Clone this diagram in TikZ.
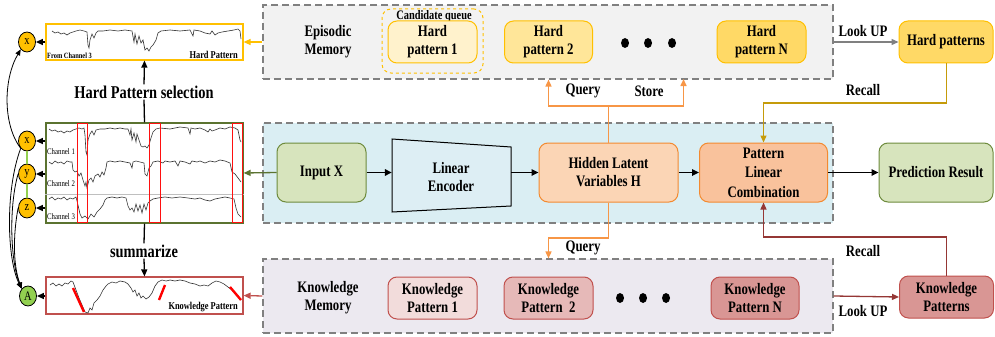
\documentclass[tikz,border=0pt]{standalone}
\usepackage{fontspec}
\setmainfont[FakeStretch=0.8]{Liberation Serif}
\usetikzlibrary{arrows.meta,shapes.geometric}
\definecolor{goldY}{HTML}{FFC000}
\definecolor{memgray}{HTML}{808080}
\definecolor{epifill}{HTML}{F2F2F2}
\definecolor{midfill}{HTML}{DAEEF3}
\definecolor{kfill}{HTML}{ECE9F0}
\definecolor{hpOnef}{HTML}{FFF2CC}
\definecolor{hpTwof}{HTML}{FFE699}
\definecolor{hpNf}{HTML}{FFD966}
\definecolor{greenf}{HTML}{D7E4BD}
\definecolor{greend}{HTML}{6E8B3D}
\definecolor{hidf}{HTML}{FBD5B5}
\definecolor{plcf}{HTML}{F9C29C}
\definecolor{orangeD}{HTML}{F38A30}
\definecolor{kpOnef}{HTML}{F2DCDB}
\definecolor{kpTwof}{HTML}{E6B9B8}
\definecolor{kpNf}{HTML}{D99694}
\definecolor{redD}{HTML}{C0504D}
\definecolor{brownD}{HTML}{953735}
\definecolor{recallG}{HTML}{C59B0A}
\definecolor{qline}{HTML}{F79646}
\definecolor{oliveD}{HTML}{5B7330}
\definecolor{Agreen}{HTML}{92D050}
\definecolor{encf}{HTML}{DDEEF4}
\definecolor{brightred}{HTML}{FF1010}
\newcommand\tsz[2]{\fontsize{#1}{#2}\selectfont}
\tikzset{
 memory/.style={draw=memgray, dash pattern=on 7pt off 4pt, line width=1.1pt, minimum width=570pt, inner sep=0},
 rbox/.style={rounded corners=9pt, line width=1pt, align=center, inner sep=1pt, font=\bfseries\tsz{16}{18}},
 lbl/.style={font=\bfseries\tsz{16}{18}, inner sep=1pt, align=center},
 biglbl/.style={font=\bfseries\tsz{18}{20}, inner sep=1pt},
 circ/.style={ellipse, draw=black, line width=0.8pt, minimum width=17pt, minimum height=20pt, inner sep=0, font=\tsz{13}{14}},
 blackdot/.style={ellipse, fill=black, minimum width=8pt, minimum height=10pt, inner sep=0},
 ts/.style={line width=0.6pt, black!80},
 strip/.style={draw, fill=white, line width=1.2pt, inner sep=0, minimum width=197pt},
 arr/.style={-{Triangle[length=7pt,width=6.5pt]}, line width=1.6pt},
 conn/.style={-{Triangle[length=7pt,width=6pt]}, line width=1.3pt},
 qconn/.style={-{Triangle[length=7pt,width=6pt]}, line width=1.5pt, draw=qline},
 qlinestyle/.style={line width=1.5pt, draw=qline},
 curv/.style={-{Triangle[length=6pt,width=5pt]}, line width=0.8pt},
 small/.style={font=\tsz{8.5}{9}, inner sep=0},
 smallb/.style={font=\bfseries\tsz{10.5}{11}, inner sep=0},
 redbox/.style={draw=brightred, line width=1.4pt},
}
\begin{document}
\begin{tikzpicture}[x=1pt,y=-1pt]
\useasboundingbox (0,0) rectangle (995,337);
% memory / model containers
\node[memory, fill=epifill, minimum height=74pt] (epi) at (548,42) {};
\node[memory, fill=midfill, minimum height=100pt] (mid) at (548,173) {};
\node[memory, fill=kfill, minimum height=74pt] (kmem) at (548,296) {};

% episodic memory
\node[lbl] (epit) at (328,42) {Episodic\\Memory};
\node[draw=goldY, dashed, rounded corners=9pt, line width=1pt, minimum width=101pt, minimum height=64pt] (cq) at (432.5,41) {};
\node[font=\bfseries\tsz{13}{13}, inner sep=0] (cqt) at (434,16) {Candidate queue};
\node[rbox, draw=goldY, fill=hpOnef, minimum width=89pt, minimum height=42pt] (hp1) at (432.5,42) {Hard\\pattern 1};
\node[rbox, draw=goldY, fill=hpTwof, minimum width=88pt, minimum height=42pt] (hp2) at (548.5,42) {Hard\\pattern 2};
\node[blackdot] (d1) at (625,43) {};
\node[blackdot] (d2) at (648,43) {};
\node[blackdot] (d3) at (672,43) {};
\node[rbox, draw=goldY, fill=hpNf, minimum width=89pt, minimum height=42pt] (hpn) at (761.5,42) {Hard\\pattern N};
\node[rbox, draw=goldY, fill=hpNf, minimum width=94pt, minimum height=42pt] (hps) at (946,42) {Hard patterns};

% model
\node[rbox, draw=greend, fill=greenf, minimum width=89pt, minimum height=59pt] (inp) at (321.5,172.5) {Input X};
\node[minimum width=119pt, minimum height=73pt, inner sep=0] (enc) at (451.5,175.5) {};
\draw[line width=1pt, fill=encf] (392,139) -- (511,147) -- (511,206) -- (392,212) -- cycle;
\node[lbl] (enct) at (451,177) {Linear\\Encoder};
\node[rbox, draw=orangeD, fill=hidf, minimum width=139pt, minimum height=59pt] (hid) at (608.5,172.5) {Hidden Latent\\Variables H};
\node[rbox, draw=orangeD, fill=plcf, minimum width=128pt, minimum height=59pt, font=\bfseries\tsz{16}{19.5}] (plc) at (763.5,172.5) {Pattern\\Linear\\Combination};
\node[rbox, draw=greend, fill=greenf, minimum width=114pt, minimum height=59pt] (pred) at (936,172.5) {Prediction Result};

\draw[arr] (inp.east) -- (enc.west |- inp.east);
\draw[arr] (enc.east |- hid.west) -- (hid.west);
\draw[arr] (hid.east) -- (plc.west);
\draw[arr] (plc.east) -- (pred.west);

% knowledge memory
\node[lbl] (kmt) at (328,298) {Knowledge\\Memory};
\node[rbox, draw=redD, fill=kpOnef, minimum width=89pt, minimum height=42pt] (kp1) at (432.5,298) {Knowledge\\Pattern 1};
\node[rbox, draw=redD, fill=kpTwof, minimum width=89pt, minimum height=42pt] (kp2) at (548.5,298) {Knowledge\\Pattern\ \ 2};
\node[blackdot] (e1) at (620,298) {};
\node[blackdot] (e2) at (643,298) {};
\node[blackdot] (e3) at (666,298) {};
\node[rbox, draw=redD, fill=kpNf, minimum width=88pt, minimum height=42pt] (kpn) at (755,298) {Knowledge\\Pattern N};
\node[rbox, draw=redD, fill=kpNf, minimum width=94pt, minimum height=42pt] (kps) at (946.5,297) {Knowledge\\Patterns};

% connectors right / middle
\draw[conn, draw=memgray] (epi.east) -- (hps.west);
\node[lbl] (lu1) at (863,31) {Look UP};
\draw[conn, draw=brownD] (kmem.east) -- (kps.west);
\node[lbl] (lu2) at (863,311) {Look UP};

\coordinate (gr) at (946.5,103);
\draw[conn, draw=recallG] (hps.south -| gr) -- (gr) -| (plc.north);
\node[lbl] (rc1) at (863,90) {Recall};
\coordinate (br) at (946.5,237);
\draw[conn, draw=brownD] (kps.north) -- (br) -| (plc.south);
\node[lbl] (rc2) at (863,251) {Recall};

\coordinate (qs) at (608.5,106);
\coordinate (st) at (683.5,79);
\draw[qlinestyle] (hid.north) -- (qs);
\draw[qconn] (qs) -| (hp2.south |- epi.south);
\draw[qconn] (qs) -| (st);
\node[lbl] (q1) at (583,91) {Query};
\node[lbl] (s1) at (649,91) {Store};
\coordinate (qb) at (608.5,238);
\draw[qlinestyle] (hid.south) -- (qb);
\draw[qconn] (qb) -| (kp2.north |- kmem.north);
\node[lbl] (q2) at (583,248) {Query};

% left: strips and plot
\node[strip, draw=goldY, minimum height=36pt] (hstrip) at (144.5,42) {};
\node[strip, draw=oliveD, minimum height=100pt] (tsbox) at (144.5,173) {};
\node[strip, draw=redD, minimum height=37pt] (kstrip) at (144.5,295.5) {};

\draw[conn, draw=goldY] (epi.west) -- (hstrip.east);
\draw[conn, draw=oliveD] (inp.west) -- (tsbox.east);
\draw[conn, draw=redD] (kmem.west) -- (kstrip.east);

% hard pattern strip series
\draw[ts] plot coordinates {(52,31)(55,33)(58,32)(61,34)(64,33)(67,35)(70,33)(73,32)(76,31)(80,30)(84,31)(87,32)(88,45)(89,48)(90,40)(92,34)(94,38)(96,33)(98,31)(103,31)(110,30)(118,31)(125,30)(132,31)(134,42)(135,34)(137,44)(139,36)(141,43)(143,40)(145,50)(147,48)(149,51)(151,47)(153,45)(156,40)(158,33)(161,31)(170,30)(180,31)(190,30)(193,36)(194,30)(200,31)(205,33)(210,34)(212,31)(215,35)(218,33)(222,32)(228,31)(234,30)(238,29)(240,31)(241,39)};
\node[font=\bfseries\tsz{8}{8}, inner sep=0, anchor=south west] (fc3) at (47,59) {From Channel 3};
\node[smallb, anchor=south east] (hpt) at (238,59) {Hard Pattern};

% main plot series
\draw[black!25, line width=0.5pt] (tsbox.west |- 0,194) -- (tsbox.east |- 0,194);
\draw[ts] plot coordinates {(49,129)(52,131)(55,130)(58,132)(61,131)(64,133)(67,131)(70,132)(73,130)(76,129)(79,128)(82,129)(84,128)(85,135)(86,152)(87,155)(88,140)(90,134)(92,131)(94,135)(96,130)(100,129)(105,129)(110,128)(115,129)(120,128)(125,129)(128,129)(130,135)(131,129)(132,140)(134,133)(136,142)(137,134)(139,140)(141,146)(143,147)(145,146)(147,148)(149,145)(151,138)(153,132)(156,129)(160,128)(170,129)(180,127)(188,128)(190,134)(191,128)(195,129)(200,128)(205,130)(208,132)(210,129)(212,131)(215,130)(220,128)(225,129)(230,127)(235,128)(238,130)(240,140)(241,142)};
\draw[ts] plot coordinates {(49,162)(52,164)(55,161)(58,163)(61,162)(64,164)(67,161)(70,162)(72,162)(73,170)(75,172)(77,171)(79,176)(81,173)(83,180)(85,186)(86,182)(87,188)(89,180)(91,178)(93,182)(95,176)(98,174)(100,177)(102,172)(104,175)(106,168)(107,162)(110,161)(115,162)(120,161)(125,162)(130,163)(132,168)(133,162)(136,161)(140,162)(144,163)(145,174)(147,176)(149,168)(151,166)(153,162)(158,161)(163,163)(165,161)(170,162)(175,161)(178,166)(180,161)(185,162)(190,164)(192,161)(197,162)(200,161)(205,163)(210,161)(215,162)(220,160)(225,161)(230,163)(232,172)(235,174)(238,178)(241,182)};
\draw[ts] plot coordinates {(49,199)(52,197)(55,200)(58,198)(61,199)(64,197)(67,200)(70,198)(73,199)(76,197)(78,205)(80,214)(82,218)(85,216)(88,219)(91,214)(94,217)(97,212)(100,209)(103,205)(105,200)(107,198)(112,197)(117,198)(122,197)(126,198)(128,206)(130,210)(132,208)(134,212)(136,204)(138,211)(140,205)(142,213)(144,204)(146,210)(148,203)(150,201)(153,199)(158,198)(165,197)(172,198)(180,197)(188,198)(195,199)(200,198)(205,200)(210,201)(215,199)(220,198)(225,197)(230,198)(234,199)(236,208)(238,214)(241,217)};
\node[small, anchor=west] (c1) at (47,152) {Channel 1};
\node[small, anchor=west] (c2) at (47,184) {Channel 2};
\node[small, anchor=west] (c3) at (47,217) {Channel 3};
\draw[redbox] (77.5,123.5) rectangle (87.5,222.5);
\draw[redbox] (149.5,123.5) rectangle (160.5,222.5);
\draw[redbox] (232.5,123.5) rectangle (242.5,222.5);

% knowledge strip series
\draw[ts] plot coordinates {(50,285)(53,283)(56,286)(59,284)(62,286)(65,283)(68,284)(71,281)(73,282)(76,290)(79,298)(82,305)(85,312)(88,313)(90,308)(92,310)(94,303)(97,300)(100,296)(103,290)(106,286)(108,284)(112,282)(116,283)(120,281)(125,282)(128,284)(131,288)(133,292)(135,290)(137,296)(139,293)(141,298)(143,296)(146,299)(149,297)(152,293)(155,286)(158,282)(162,280)(166,281)(170,280)(175,281)(180,280)(185,281)(190,283)(195,284)(200,286)(204,285)(208,286)(212,283)(216,281)(220,282)(224,284)(228,287)(232,290)(236,294)(239,298)(241,300)};
\draw[red, line width=2.4pt] (73,288) -- (84,312);
\draw[red, line width=2.4pt] (159,300) -- (165,285);
\draw[red, line width=2.4pt] (230,287) -- (241,300);
\node[smallb, anchor=south east] (kpt) at (238,312) {Knowledge Pattern};

% selection / summarize
\node[biglbl] (hsel) at (144,92) {Hard Pattern selection};
\draw[line width=1.3pt] (tsbox.north) -- (hsel.south);
\draw[conn] (hsel.north) -- (hstrip.south);
\node[biglbl] (summ) at (144,251) {summarize};
\draw[line width=1.3pt] (tsbox.south) -- (summ.north);
\draw[conn] (summ.south) -- (kstrip.north);

% circles
\node[circ, fill=goldY] (xt) at (27,42) {x};
\node[circ, fill=goldY] (xm) at (27,141) {x};
\node[circ, fill=goldY] (ym) at (27,174) {y};
\node[circ, fill=goldY] (zm) at (27,208) {z};
\node[circ, fill=Agreen] (A) at (28,296) {A};
\draw[Agreen, line width=1.5pt] (xm.south) -- (ym.north);
\draw[Agreen, line width=1.5pt] (ym.south) -- (zm.north);
\draw[conn] (hstrip.west) -- (xt.east);
\draw[conn] (tsbox.west |- xm.east) -- (xm.east);
\draw[conn] (tsbox.west |- ym.east) -- (ym.east);
\draw[conn] (tsbox.west |- zm.east) -- (zm.east);
\draw[conn] (kstrip.west |- A.east) -- (A.east);

\draw[curv] (xm.south west) .. controls (3,125) and (3,80) .. (xt.south west);
\draw[curv] (xm.south west) .. controls (5,190) and (7,260) .. (A.north west);
\draw[curv] (ym.west) .. controls (9,205) and (10,260) .. (A.north west);
\draw[curv] (zm.west) .. controls (13,235) and (13,265) .. (A.north west);
\end{tikzpicture}
\end{document}
